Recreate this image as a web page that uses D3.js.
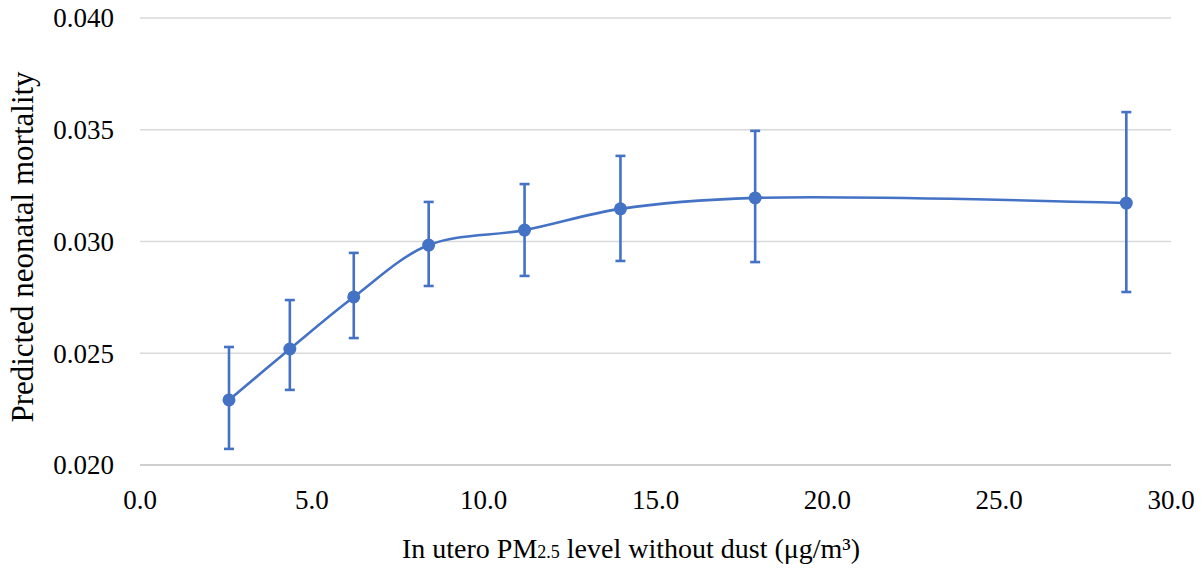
<!DOCTYPE html>
<html>
<head>
<meta charset="utf-8">
<script src="https://cdn.jsdelivr.net/npm/d3@7"></script>
<style>
  body { margin: 0; background: #fff; }
  svg text { font-family: "Liberation Serif", "Times New Roman", serif; fill: #000; }
</style>
</head>
<body>
<div id="chart"></div>
<script>
// PM2.5 exposure (µg/m³) and predicted neonatal mortality with CI
const pmLevels = [2.59, 4.36, 6.22, 8.40, 11.19, 13.98, 17.90, 28.70];
const mortality = [0.02291, 0.02519, 0.02752, 0.02984, 0.03051, 0.03146, 0.03195, 0.03172];
const ciUpper = [0.02528, 0.02738, 0.02949, 0.03177, 0.03257, 0.03383, 0.03495, 0.03579];
const ciLower = [0.02072, 0.02336, 0.02568, 0.02801, 0.02846, 0.02913, 0.02908, 0.02774];
const xTicks = [0, 5, 10, 15, 20, 25, 30];
const yTicks = [0.020, 0.025, 0.030, 0.035, 0.040];

const W = 1201, H = 571;
const blue = "#4472C4";

const svg = d3.select("#chart").append("svg").attr("width", W).attr("height", H);

const x = d3.scaleLinear().domain([0, 30]).range([140, 1171]);
const y = d3.scaleLinear().domain([0.020, 0.040]).range([465, 18]);

// gridlines
svg.append("g")
  .selectAll("line")
  .data(yTicks)
  .enter().append("line")
  .attr("x1", x(0)).attr("x2", x(30))
  .attr("y1", d => y(d)).attr("y2", d => y(d))
  .attr("stroke", d => d === 0.020 ? "#bfbfbf" : "#d9d9d9")
  .attr("stroke-width", 1.3);

// y tick labels
svg.append("g")
  .selectAll("text")
  .data(yTicks)
  .enter().append("text")
  .attr("x", 114)
  .attr("y", d => y(d))
  .attr("dy", "0.35em")
  .attr("text-anchor", "end")
  .attr("font-size", 27)
  .text(d => d3.format(".3f")(d));

// x tick labels
svg.append("g")
  .selectAll("text")
  .data(xTicks)
  .enter().append("text")
  .attr("x", d => x(d))
  .attr("y", 509)
  .attr("text-anchor", "middle")
  .attr("font-size", 27)
  .text(d => d3.format(".1f")(d));

const data = pmLevels.map((v, i) => ({ x: v, y: mortality[i], lo: ciLower[i], hi: ciUpper[i] }));

// smoothed line
const line = d3.line()
  .x(d => x(d.x))
  .y(d => y(d.y))
  .curve(d3.curveCatmullRom.alpha(0.5));

svg.append("path")
  .datum(data)
  .attr("d", line)
  .attr("fill", "none")
  .attr("stroke", blue)
  .attr("stroke-width", 2.6);

// error bars
const err = svg.append("g").attr("stroke", blue).attr("stroke-width", 2.6);
data.forEach(d => {
  err.append("line").attr("x1", x(d.x)).attr("x2", x(d.x)).attr("y1", y(d.hi)).attr("y2", y(d.lo));
  err.append("line").attr("x1", x(d.x) - 5).attr("x2", x(d.x) + 5).attr("y1", y(d.hi)).attr("y2", y(d.hi));
  err.append("line").attr("x1", x(d.x) - 5).attr("x2", x(d.x) + 5).attr("y1", y(d.lo)).attr("y2", y(d.lo));
});

// markers
svg.append("g")
  .selectAll("circle")
  .data(data)
  .enter().append("circle")
  .attr("cx", d => x(d.x))
  .attr("cy", d => y(d.y))
  .attr("r", 6.5)
  .attr("fill", blue);

// axis titles
const xt = svg.append("text")
  .attr("x", 631)
  .attr("y", 558)
  .attr("text-anchor", "middle")
  .attr("font-size", 28);
xt.append("tspan").text("In utero PM");
xt.append("tspan").attr("font-size", 18).text("2.5");
xt.append("tspan").text(" level without dust (μg/m³)");

svg.append("text")
  .attr("transform", "translate(33,247) rotate(-90)")
  .attr("text-anchor", "middle")
  .attr("font-size", 31)
  .text("Predicted neonatal mortality");
</script>
</body>
</html>
